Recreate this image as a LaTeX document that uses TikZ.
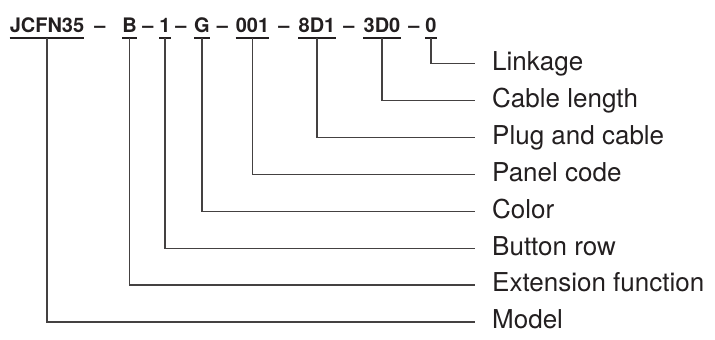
\documentclass[tikz,border=0pt]{standalone}
\usepackage{fontspec}
\setmainfont{TeX Gyre Heros}
\begin{document}
\begin{tikzpicture}[x=1pt,y=-1pt,
  seg/.style={inner sep=0pt, anchor=base, font=\fontsize{20}{20}\selectfont\bfseries, text=ink},
  lab/.style={inner sep=0pt, anchor=base west, font=\fontsize{26}{26}\selectfont, text=ink},
  wire/.style={draw=ink!85, line width=1.2pt},
  uline/.style={draw=ink, line width=1.4pt}]
\definecolor{ink}{HTML}{231F20}
\useasboundingbox (0,0) rectangle (715,340);
% code segments
\node[seg] (s1) at (47,32) {JCFN35};
\node[seg] (s2) at (129.5,32) {B};
\node[seg] (s3) at (165,32) {1};
\node[seg] (s4) at (202,32) {G};
\node[seg] (s5) at (252.5,32) {001};
\node[seg] (s6) at (317,32) {8D1};
\node[seg] (s7) at (382,32) {3D0};
\node[seg] (s8) at (431,32) {0};
\node[seg] (d1) at (100,32) {–};
\node[seg] (d2) at (148,32) {–};
\node[seg] (d3) at (181,32) {–};
\node[seg] (d4) at (222.5,32) {–};
\node[seg] (d5) at (284,32) {–};
\node[seg] (d6) at (349,32) {–};
\node[seg] (d7) at (414,32) {–};
\foreach \s in {s1,s2,s3,s4,s5,s6,s7,s8}
  \draw[uline] ([yshift=-6pt]\s.base west) -- ([yshift=-6pt]\s.base east);
% labels
\node[lab] (l1) at (492,70) {Linkage};
\node[lab] (l2) at (492,107) {Cable length};
\node[lab] (l3) at (492,144) {Plug and cable};
\node[lab] (l4) at (492,181) {Panel code};
\node[lab] (l5) at (492,218) {Color};
\node[lab] (l6) at (492,255) {Button row};
\node[lab] (l7) at (492,291.5) {Extension function};
\node[lab] (l8) at (492,328.5) {Model};
\coordinate (e1) at (475,63.5);
\coordinate (e2) at (475,100.5);
\coordinate (e3) at (475,137.5);
\coordinate (e4) at (475,174.5);
\coordinate (e5) at (475,211.5);
\coordinate (e6) at (475,248.5);
\coordinate (e7) at (475,285);
\coordinate (e8) at (475,322);
% connectors
\draw[wire] ([yshift=-6pt]s8.base) |- (e1);
\draw[wire] ([yshift=-6pt]s7.base) |- (e2);
\draw[wire] ([yshift=-6pt]s6.base) |- (e3);
\draw[wire] ([yshift=-6pt]s5.base) |- (e4);
\draw[wire] ([yshift=-6pt]s4.base) |- (e5);
\draw[wire] ([yshift=-6pt]s3.base) |- (e6);
\draw[wire] ([yshift=-6pt]s2.base) |- (e7);
\draw[wire] ([yshift=-6pt]s1.base) |- (e8);
\end{tikzpicture}
\end{document}
